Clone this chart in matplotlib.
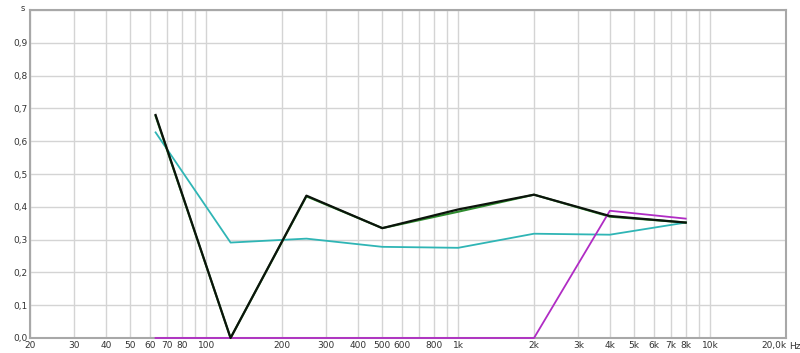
import matplotlib
matplotlib.use("Agg")
import matplotlib.pyplot as plt          # noqa: E402
from matplotlib.ticker import FixedLocator, NullFormatter  # noqa: E402

# octave band centres (Hz) and decay times (s)
freqs = [63, 125, 250, 500, 1000, 2000, 4000, 8000]
t_green = [0.677, 0.0, 0.432, 0.335, 0.385, 0.437, 0.370, 0.352]
t_black = [0.680, 0.0, 0.434, 0.335, 0.392, 0.437, 0.372, 0.352]
t_cyan = [0.627, 0.291, 0.303, 0.278, 0.275, 0.318, 0.315, 0.352]
t_magenta = [0.0, 0.0, 0.0, 0.0, 0.0, 0.0, 0.388, 0.364]

xtick_vals = [20, 30, 40, 50, 60, 70, 80, 100, 200, 300, 400, 500, 600, 800,
              1000, 2000, 3000, 4000, 5000, 6000, 7000, 8000, 10000, 20000]
xtick_labels = ["20", "30", "40", "50", "60", "70", "80", "100", "200", "300", "400",
                "500", "600", "800", "1k", "2k", "3k", "4k", "5k", "6k", "7k", "8k",
                "10k", "20,0k"]
ytick_vals = [0.0, 0.1, 0.2, 0.3, 0.4, 0.5, 0.6, 0.7, 0.8, 0.9]
ytick_labels = ["0,0", "0,1", "0,2", "0,3", "0,4", "0,5", "0,6", "0,7", "0,8", "0,9"]

fig = plt.figure(figsize=(8, 3.53), dpi=100)
ax = fig.add_axes([0.0375, 0.0425, 0.945, 0.929])

grid_x = [m * 10 ** e for e in range(1, 5) for m in range(1, 10)]
grid_x = [g for g in grid_x if 20 <= g <= 20000]
ax.set_xscale("log")
ax.xaxis.set_minor_locator(FixedLocator(grid_x))
ax.xaxis.set_minor_formatter(NullFormatter())
ax.set_xticks(xtick_vals)
ax.set_xticklabels(xtick_labels)
ax.set_yticks(ytick_vals)
ax.set_yticklabels(ytick_labels)
ax.set_yticks([0.1 * i for i in range(11)], minor=True)
ax.grid(True, which="both", color="#d4d4d4", lw=1.0)
ax.set_axisbelow(True)
ax.tick_params(which="both", length=0, labelsize=6.5, colors="#333333", pad=2)
ax.get_xticklabels()[-1].set_horizontalalignment("right")

ax.plot(freqs, t_cyan, color="#2fb5b5", lw=1.3, zorder=3)
ax.plot(freqs, t_magenta, color="#b02cc4", lw=1.3, zorder=6, clip_on=False)
ax.plot(freqs, t_green, color="#2e8b2e", lw=1.5, zorder=4)
ax.plot(freqs, t_black, color="#0c140c", lw=1.6, zorder=7, clip_on=False)

ax.set_xlim(20, 20000)
ax.set_ylim(0, 1.0)
for s in ax.spines.values():
    s.set_color("#a8a8a8")
    s.set_linewidth(1.5)

fig.text(0.029, 0.99, "s", fontsize=6, color="#333333", ha="center", va="top")
fig.text(0.987, 0.032, "Hz", fontsize=6.5, color="#333333", ha="left", va="top")

fig.savefig("out.png", dpi=100)
